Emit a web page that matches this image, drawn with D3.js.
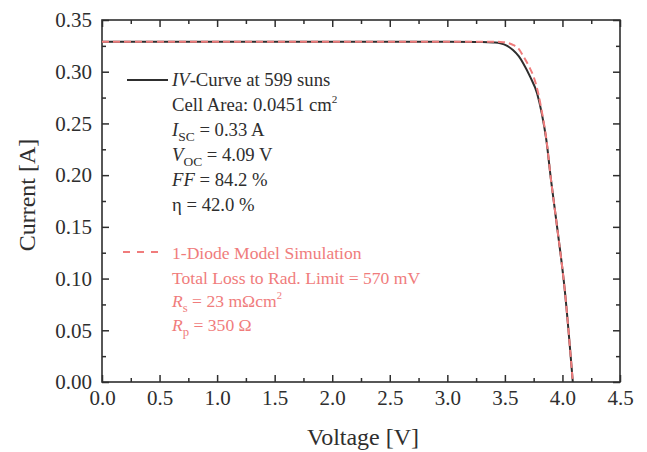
<!DOCTYPE html>
<html>
<head>
<meta charset="utf-8">
<script src="https://cdn.jsdelivr.net/npm/d3@7"></script>
<style>
	body { margin: 0; background: #fff; }
	text { font-family: "Liberation Serif", "Times New Roman", serif; }
</style>
</head>
<body>
<svg id="chart"></svg>
<script>
var width = 647,
	height = 452;
var margin = ({top: 20, right: 27, bottom: 70, left: 102});

var measV = [0, 0.5, 1.0, 1.5, 2.0, 2.5, 3.0, 3.3, 3.4, 3.46, 3.52, 3.57, 3.62, 3.66, 3.72, 3.78, 3.82, 3.86, 3.90, 3.95, 4.02, 4.09];
var measI = [0.329, 0.329, 0.329, 0.329, 0.329, 0.329, 0.329, 0.3288, 0.3283, 0.3275, 0.325, 0.321, 0.315, 0.308, 0.295, 0.279, 0.260, 0.234, 0.196, 0.153, 0.089, 0.0];

var simV = [0, 0.5, 1.0, 1.5, 2.0, 2.5, 3.0, 3.4, 3.46, 3.52, 3.57, 3.62, 3.66, 3.71, 3.75, 3.79, 3.82, 3.86, 3.90, 3.95, 4.02, 4.09];
var simI = [0.329, 0.329, 0.329, 0.329, 0.329, 0.329, 0.329, 0.329, 0.3288, 0.328, 0.326, 0.322, 0.315, 0.305, 0.295, 0.279, 0.262, 0.235, 0.196, 0.153, 0.089, 0.0];

var xTicks = [0, 0.5, 1.0, 1.5, 2.0, 2.5, 3.0, 3.5, 4.0, 4.5];
var yTicks = [0, 0.05, 0.10, 0.15, 0.20, 0.25, 0.30, 0.35];
var xMinor = [0.25, 0.75, 1.25, 1.75, 2.25, 2.75, 3.25, 3.75, 4.25];
var yMinor = [0.025, 0.075, 0.125, 0.175, 0.225, 0.275, 0.325];

var blackLegend = ["IV-Curve at 599 suns", "Cell Area: 0.0451 cm2", "Isc = 0.33 A", "Voc = 4.09 V", "FF = 84.2 %", "η = 42.0 %"];
var redLegend = ["1-Diode Model Simulation", "Total Loss to Rad. Limit = 570 mV", "Rs = 23 mΩcm2", "Rp = 350 Ω"];

var ink = "#2e2e2e";
var red = "#f07c7c";

var svg = d3.select('#chart')
	.attr('width', width)
	.attr('height', height);

var x = d3.scaleLinear()
	.domain([0, 4.5])
	.range([margin.left, width - margin.right]);

var y = d3.scaleLinear()
	.domain([0, 0.35])
	.range([height - margin.bottom, margin.top]);

// axes: ticks point inwards on all four sides
function styleAxis(g) {
	g.select('.domain').remove();
	g.selectAll('.tick line').attr('stroke', ink).attr('stroke-width', 1.5);
	g.selectAll('.tick text').attr('fill', ink).attr('font-size', 21);
}

svg.append('g')
	.attr('transform', 'translate(0,' + y(0) + ')')
	.call(d3.axisBottom(x).tickValues(xTicks).tickFormat(d3.format('.1f')).tickSize(-7).tickPadding(8))
	.call(styleAxis);
svg.append('g')
	.attr('transform', 'translate(0,' + y(0) + ')')
	.call(d3.axisBottom(x).tickValues(xMinor).tickFormat('').tickSize(-4))
	.call(styleAxis);
svg.append('g')
	.attr('transform', 'translate(0,' + y(0.35) + ')')
	.call(d3.axisTop(x).tickValues(xTicks).tickFormat('').tickSize(-7))
	.call(styleAxis);
svg.append('g')
	.attr('transform', 'translate(0,' + y(0.35) + ')')
	.call(d3.axisTop(x).tickValues(xMinor).tickFormat('').tickSize(-4))
	.call(styleAxis);

svg.append('g')
	.attr('transform', 'translate(' + x(0) + ',0)')
	.call(d3.axisLeft(y).tickValues(yTicks).tickFormat(d3.format('.2f')).tickSize(-7).tickPadding(10))
	.call(styleAxis);
svg.append('g')
	.attr('transform', 'translate(' + x(0) + ',0)')
	.call(d3.axisLeft(y).tickValues(yMinor).tickFormat('').tickSize(-4))
	.call(styleAxis);
svg.append('g')
	.attr('transform', 'translate(' + x(4.5) + ',0)')
	.call(d3.axisRight(y).tickValues(yTicks).tickFormat('').tickSize(-7))
	.call(styleAxis);
svg.append('g')
	.attr('transform', 'translate(' + x(4.5) + ',0)')
	.call(d3.axisRight(y).tickValues(yMinor).tickFormat('').tickSize(-4))
	.call(styleAxis);

// frame
svg.append('rect')
	.attr('x', x(0))
	.attr('y', y(0.35))
	.attr('width', x(4.5) - x(0))
	.attr('height', y(0) - y(0.35))
	.attr('fill', 'none')
	.attr('stroke', ink)
	.attr('stroke-width', 1.6);

// axis labels
svg.append('text')
	.attr('x', 363)
	.attr('y', 445)
	.attr('text-anchor', 'middle')
	.attr('font-size', 24)
	.attr('fill', ink)
	.text('Voltage [V]');
svg.append('text')
	.attr('transform', 'translate(35,195) rotate(-90)')
	.attr('text-anchor', 'middle')
	.attr('font-size', 24)
	.attr('fill', ink)
	.text('Current [A]');

// curves
var line = d3.line()
	.x(d => x(d[0]))
	.y(d => y(d[1]))
	.curve(d3.curveMonotoneX);

svg.append('path')
	.attr('d', line(measV.map((v, i) => [v, measI[i]])))
	.attr('fill', 'none')
	.attr('stroke', ink)
	.attr('stroke-width', 2);

svg.append('path')
	.attr('d', line(simV.map((v, i) => [v, simI[i]])))
	.attr('fill', 'none')
	.attr('stroke', red)
	.attr('stroke-width', 2)
	.attr('stroke-dasharray', '7,4');

// legend with subscripts / superscripts
function richText(g, str, color, size) {
	var t = g.append('text').attr('fill', color).attr('font-size', size);
	var subSize = size * 0.72, supSize = size * 0.6;
	function part(s, opts) {
		var sp = t.append('tspan').text(s);
		if (opts && opts.italic) sp.attr('font-style', 'italic');
		if (opts && opts.sub) sp.attr('font-size', subSize).attr('dy', 5);
		if (opts && opts.sup) sp.attr('font-size', supSize).attr('dy', -8);
		if (opts && opts.back) sp.attr('dy', opts.back);
		return sp;
	}
	if (str.startsWith('IV-')) {
		part('IV', {italic: true}); part(str.slice(2));
	} else if (str.startsWith('Cell Area')) {
		part(str.slice(0, -1)); part('2', {sup: true});
	} else if (str.startsWith('Isc')) {
		part('I', {italic: true}); part('SC', {sub: true}); part(str.slice(3), {back: -5});
	} else if (str.startsWith('Voc')) {
		part('V', {italic: true}); part('OC', {sub: true}); part(str.slice(3), {back: -5});
	} else if (str.startsWith('FF')) {
		part('FF', {italic: true}); part(str.slice(2));
	} else if (str.startsWith('Rs')) {
		part('R', {italic: true}); part('s', {sub: true}); part(str.slice(2, -1), {back: -5}); part('2', {sup: true});
	} else if (str.startsWith('Rp')) {
		part('R', {italic: true}); part('p', {sub: true}); part(str.slice(2), {back: -5});
	} else {
		part(str);
	}
	return t;
}

var legX = 172;
var blackG = svg.append('g');
blackLegend.forEach(function(s, i) {
	richText(blackG, s, ink, 18.7)
		.attr('x', legX)
		.attr('y', 86 + i * 25);
});
blackG.append('line')
	.attr('x1', 127).attr('x2', 168)
	.attr('y1', 80).attr('y2', 80)
	.attr('stroke', ink)
	.attr('stroke-width', 2);

var redBase = [259, 284, 307, 331];
var redG = svg.append('g');
redLegend.forEach(function(s, i) {
	richText(redG, s, red, 17.6)
		.attr('x', legX)
		.attr('y', redBase[i]);
});
redG.append('line')
	.attr('x1', 123).attr('x2', 165)
	.attr('y1', 252).attr('y2', 252)
	.attr('stroke', red)
	.attr('stroke-width', 2)
	.attr('stroke-dasharray', '7,7');
</script>
</body>
</html>
